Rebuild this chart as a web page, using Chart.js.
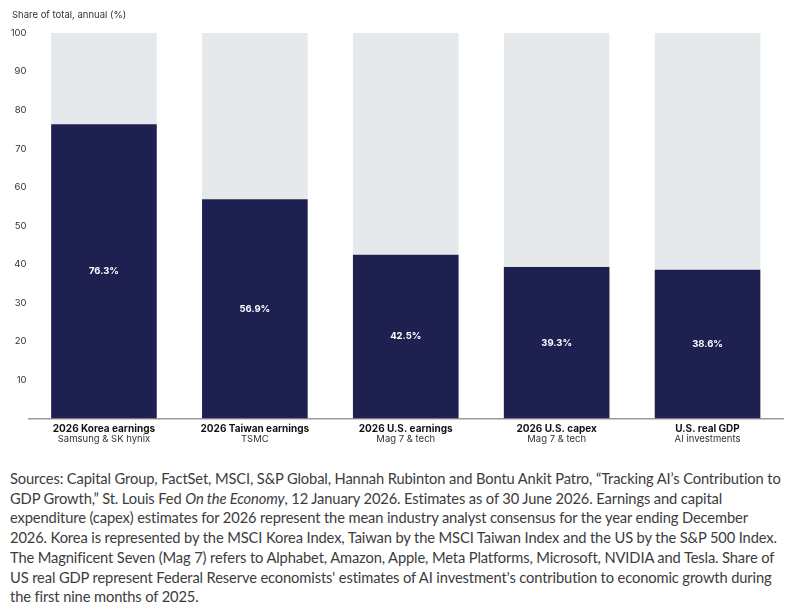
<!DOCTYPE html>
<html>
<head>
<meta charset="utf-8">
<script src="https://cdn.jsdelivr.net/npm/chart.js@4.4.1/dist/chart.umd.min.js"></script>
<style>
  html, body { margin: 0; padding: 0; background: #fff; }
  #wrap { position: relative; width: 799px; height: 455px; }
  #note { font-family: Lato, "Noto Sans", sans-serif; font-size: 14.7px; letter-spacing: -0.12px; line-height: 19.7px; color: #3c3c3c; padding: 14px 0 0 10px; white-space: nowrap; }
</style>
</head>
<body>
<div id="wrap"><canvas id="c" width="799" height="455"></canvas></div>
<div id="note">Sources: Capital Group, FactSet, MSCI, S&amp;P Global, Hannah Rubinton and Bontu Ankit Patro, “Tracking AI’s Contribution to<br>GDP Growth,” St. Louis Fed <i>On the Economy</i>, 12 January 2026. Estimates as of 30 June 2026. Earnings and capital<br>expenditure (capex) estimates for 2026 represent the mean industry analyst consensus for the year ending December<br>2026. Korea is represented by the MSCI Korea Index, Taiwan by the MSCI Taiwan Index and the US by the S&amp;P 500 Index.<br>The Magnificent Seven (Mag 7) refers to Alphabet, Amazon, Apple, Meta Platforms, Microsoft, NVIDIA and Tesla. Share of<br>US real GDP represent Federal Reserve economists' estimates of AI investment's contribution to economic growth during<br>the first nine months of 2025.</div>
<script>
const categories = ["2026 Korea earnings", "2026 Taiwan earnings", "2026 U.S. earnings", "2026 U.S. capex", "U.S. real GDP"];
const subLabels = ["Samsung & SK hynix", "TSMC", "Mag 7 & tech", "Mag 7 & tech", "AI investments"];
const shareValues = [76.3, 56.9, 42.5, 39.3, 38.6];
const totalValue = 100;
const remainderValues = shareValues.map(v => +(totalValue - v).toFixed(1));
const yTicks = [10, 20, 30, 40, 50, 60, 70, 80, 90, 100];
const axisTitle = "Share of total, annual (%)";

const FONT = "Inter, 'Noto Sans', sans-serif";

const labelPlugin = {
  id: 'customLabels',
  afterDatasetsDraw(chart) {
    const ctx = chart.ctx;
    const meta = chart.getDatasetMeta(0);
    ctx.save();
    ctx.fillStyle = '#ffffff';
    ctx.font = "bold 9.5px " + FONT;
    ctx.textAlign = 'center';
    ctx.textBaseline = 'middle';
    meta.data.forEach((bar, i) => {
      const y = chart.scales.y.getPixelForValue(shareValues[i] / 2);
      ctx.fillText(shareValues[i].toFixed(1) + '%', bar.x, y);
    });
    ctx.restore();
  },
  afterDraw(chart) {
    const ctx = chart.ctx;
    const xs = chart.scales.x;
    const bottom = chart.chartArea.bottom;
    ctx.save();
    ctx.textAlign = 'center';
    ctx.textBaseline = 'middle';
    categories.forEach((c, i) => {
      const x = xs.getPixelForValue(i);
      ctx.fillStyle = '#111111';
      ctx.font = "bold 10px " + FONT;
      ctx.fillText(c, x, bottom + 10);
      ctx.fillStyle = '#333333';
      ctx.font = "9.5px " + FONT;
      ctx.fillText(subLabels[i], x, bottom + 21);
    });
    ctx.fillStyle = '#333333';
    ctx.font = "9.5px " + FONT;
    ctx.textAlign = 'left';
    ctx.fillText(axisTitle, 12, 15);
    ctx.restore();
  }
};

new Chart(document.getElementById('c'), {
  type: 'bar',
  data: {
    labels: categories,
    datasets: [
      { data: shareValues, backgroundColor: '#1e2150', barPercentage: 0.7, categoryPercentage: 1.0, borderWidth: 0 },
      { data: remainderValues, backgroundColor: '#e6e9ec', barPercentage: 0.7, categoryPercentage: 1.0, borderWidth: 0 }
    ]
  },
  options: {
    responsive: false,
    animation: false,
    devicePixelRatio: 1,
    layout: { padding: { top: 33, right: 16, left: 0, bottom: 0 } },
    plugins: { legend: { display: false }, tooltip: { enabled: false }, title: { display: false } },
    scales: {
      x: {
        stacked: true,
        grid: { display: false, drawTicks: false },
        border: { display: true, color: '#9a9a9a', width: 1.5 },
        ticks: { display: false },
        afterFit(s) { s.height = 36.5; }
      },
      y: {
        stacked: true,
        min: 0, max: 100,
        grid: { display: false, drawTicks: false },
        border: { display: false },
        afterBuildTicks(s) { s.ticks = yTicks.map(v => ({ value: v })); },
        ticks: { color: '#333333', font: { size: 9.5, family: FONT }, padding: 2 },
        afterFit(s) { s.width = 28.5; }
      }
    }
  },
  plugins: [labelPlugin]
});
</script>
</body>
</html>
